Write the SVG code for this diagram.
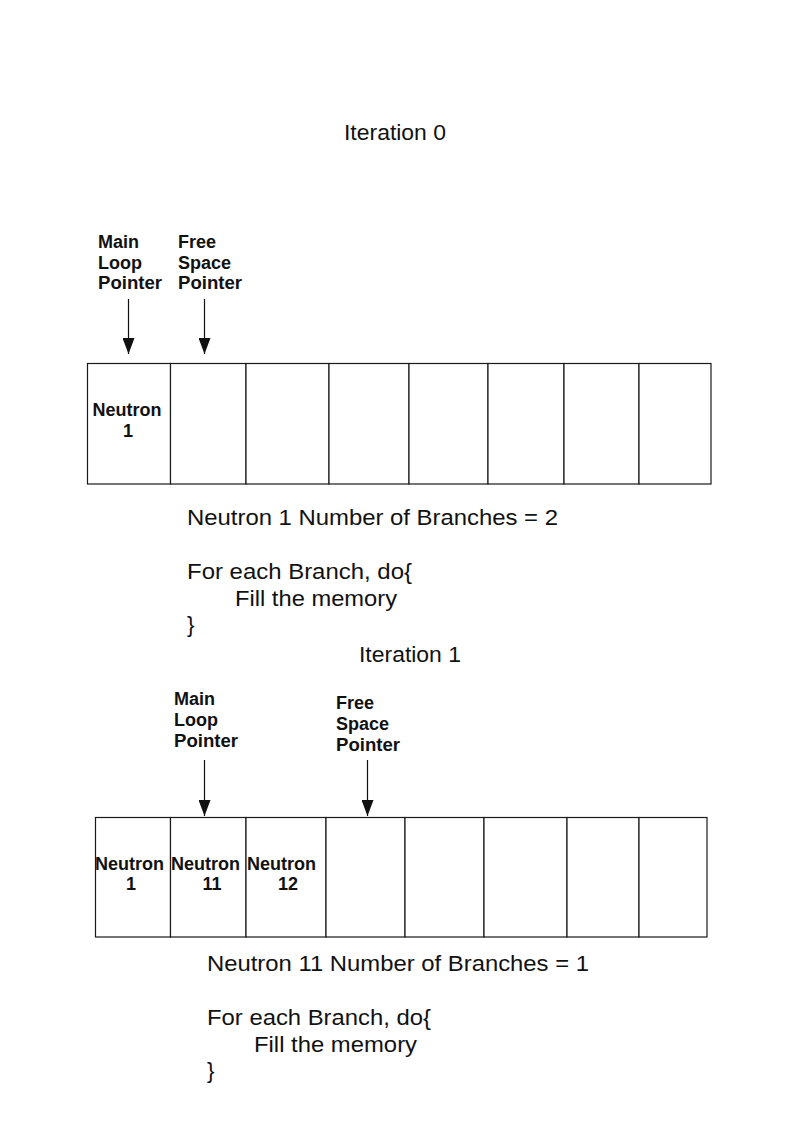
<svg xmlns="http://www.w3.org/2000/svg" width="794" height="1123" viewBox="0 0 794 1123">
<style>
.cell{fill:#fff;stroke:#1a1a1a;stroke-width:1.2}
.t{font-family:"Liberation Sans",Arial,sans-serif;font-size:22.5px;fill:#111}
.b{font-family:"Liberation Sans",Arial,sans-serif;font-size:18px;font-weight:bold;fill:#111}
.c{text-anchor:middle}
.arr{stroke:#111;stroke-width:1.2;fill:none;marker-end:url(#ah)}
</style>
<defs>
<marker id="ah" viewBox="0 0 16 12" refX="16" refY="6" markerWidth="16" markerHeight="12" markerUnits="userSpaceOnUse" orient="auto">
<path d="M0,0 L16,6 L0,12 Z" fill="#111"/>
</marker>
</defs>
<rect width="794" height="1123" fill="#fff"/>

<text class="t" x="344" y="140" textLength="102" lengthAdjust="spacingAndGlyphs">Iteration 0</text>

<g id="labels0">
<text class="b" x="98" y="248">Main</text>
<text class="b" x="98" y="268.5">Loop</text>
<text class="b" x="98" y="289" textLength="64" lengthAdjust="spacingAndGlyphs">Pointer</text>
<text class="b" x="178" y="248">Free</text>
<text class="b" x="178" y="268.5">Space</text>
<text class="b" x="178" y="289" textLength="64" lengthAdjust="spacingAndGlyphs">Pointer</text>
</g>

<g id="array0">
<g id="a0c0"><rect class="cell" x="87.5" y="363.5" width="83" height="120.5"/>
<text class="b c" x="127" y="416">Neutron</text><text class="b c" x="128" y="437">1</text></g>
<g id="a0c1"><rect class="cell" x="170.5" y="363.5" width="75.5" height="120.5"/></g>
<g id="a0c2"><rect class="cell" x="246" y="363.5" width="83" height="120.5"/></g>
<g id="a0c3"><rect class="cell" x="329" y="363.5" width="80" height="120.5"/></g>
<g id="a0c4"><rect class="cell" x="409" y="363.5" width="79" height="120.5"/></g>
<g id="a0c5"><rect class="cell" x="488" y="363.5" width="76" height="120.5"/></g>
<g id="a0c6"><rect class="cell" x="564" y="363.5" width="75" height="120.5"/></g>
<g id="a0c7"><rect class="cell" x="639" y="363.5" width="72" height="120.5"/></g>
</g>

<g id="code0">
<text class="t" x="187" y="525" textLength="371" lengthAdjust="spacingAndGlyphs">Neutron 1 Number of Branches = 2</text>
<text class="t" x="187" y="579" textLength="225" lengthAdjust="spacingAndGlyphs">For each Branch, do{</text>
<text class="t" x="235" y="606" textLength="162" lengthAdjust="spacingAndGlyphs">Fill the memory</text>
<text class="t" x="187" y="632">}</text>
</g>

<text class="t" x="359" y="662" textLength="102" lengthAdjust="spacingAndGlyphs">Iteration 1</text>

<g id="labels1">
<text class="b" x="174" y="705">Main</text>
<text class="b" x="174" y="726">Loop</text>
<text class="b" x="174" y="747" textLength="64" lengthAdjust="spacingAndGlyphs">Pointer</text>
<text class="b" x="336" y="709">Free</text>
<text class="b" x="336" y="730">Space</text>
<text class="b" x="336" y="751" textLength="64" lengthAdjust="spacingAndGlyphs">Pointer</text>
</g>

<g id="array1">
<g id="a1c0"><rect class="cell" x="95.5" y="817.5" width="75" height="119.5"/>
<text class="b" x="95" y="870">Neutron</text><text class="b c" x="131" y="890">1</text></g>
<g id="a1c1"><rect class="cell" x="170.5" y="817.5" width="75.5" height="119.5"/>
<text class="b" x="171" y="870">Neutron</text><text class="b c" x="212" y="890">11</text></g>
<g id="a1c2"><rect class="cell" x="246" y="817.5" width="80" height="119.5"/>
<text class="b" x="247" y="870">Neutron</text><text class="b c" x="288" y="890">12</text></g>
<g id="a1c3"><rect class="cell" x="326" y="817.5" width="79" height="119.5"/></g>
<g id="a1c4"><rect class="cell" x="405" y="817.5" width="79" height="119.5"/></g>
<g id="a1c5"><rect class="cell" x="484" y="817.5" width="83" height="119.5"/></g>
<g id="a1c6"><rect class="cell" x="567" y="817.5" width="72" height="119.5"/></g>
<g id="a1c7"><rect class="cell" x="639" y="817.5" width="68" height="119.5"/></g>
</g>

<g id="code1">
<text class="t" x="207" y="971" textLength="382" lengthAdjust="spacingAndGlyphs">Neutron 11 Number of Branches = 1</text>
<text class="t" x="207" y="1025" textLength="224" lengthAdjust="spacingAndGlyphs">For each Branch, do{</text>
<text class="t" x="254" y="1052" textLength="163" lengthAdjust="spacingAndGlyphs">Fill the memory</text>
<text class="t" x="207" y="1078">}</text>
</g>

<g id="connectors">
<line class="arr" x1="128.5" y1="299" x2="128.5" y2="354"/>
<line class="arr" x1="204.5" y1="299" x2="204.5" y2="354"/>
<line class="arr" x1="204.5" y1="760" x2="204.5" y2="816"/>
<line class="arr" x1="367.5" y1="760" x2="367.5" y2="816"/>
</g>
</svg>
